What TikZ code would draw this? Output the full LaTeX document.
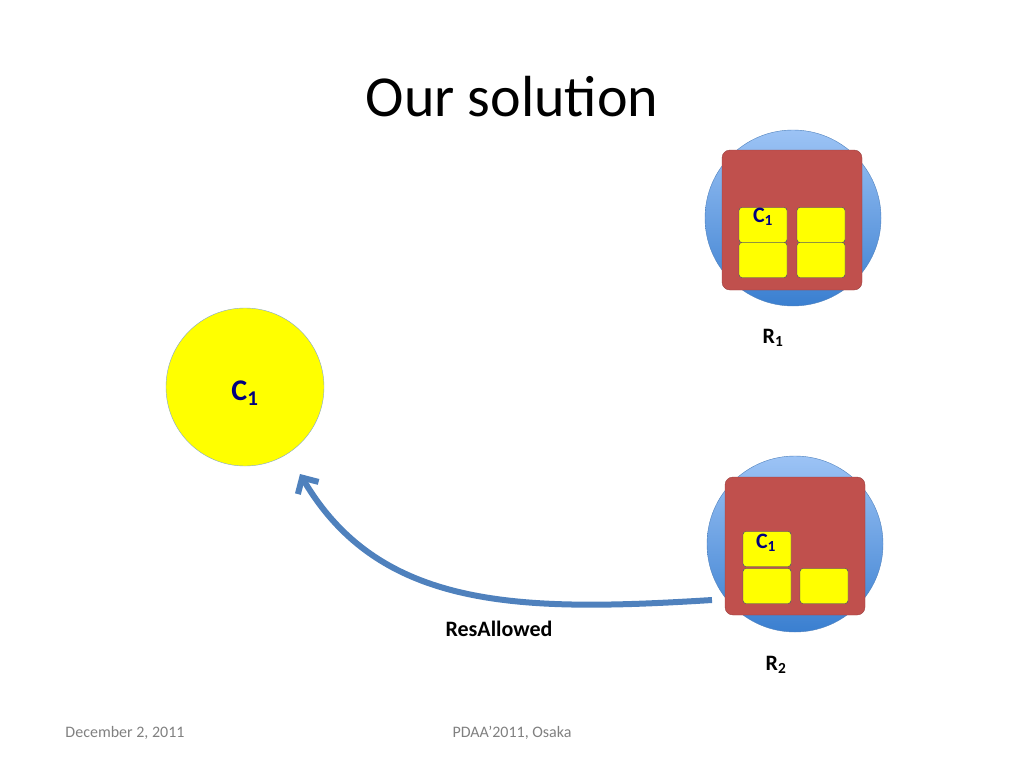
\documentclass[tikz,border=0pt]{standalone}
\usepackage{fontspec}
\setmainfont{Carlito}
\usetikzlibrary{arrows.meta,shadings}
\definecolor{bl}{HTML}{4F81BD}
\definecolor{blt}{HTML}{9CC3F5}
\definecolor{blb}{HTML}{3A7FD0}
\definecolor{rd}{HTML}{C0504D}
\definecolor{yl}{HTML}{FFFF00}
\begin{document}
\begin{tikzpicture}[x=1pt,y=-1pt,
  res/.style={circle,draw=bl,top color=blt,bottom color=blb,minimum size=176pt,inner sep=0pt},
  box/.style={rounded corners=8pt,fill=rd,draw=rd!80!black},
  sq/.style={rounded corners=3pt,fill=yl,draw=bl!60!black,minimum width=48pt,minimum height=35pt,inner sep=0pt},
  lab/.style={font=\bfseries\fontsize{22}{26}\selectfont}]
\useasboundingbox (0,0) rectangle (1024,768);
\node (title) at (512,97) {\fontsize{58}{66}\selectfont Our solution};
% R1
\node[res] (r1) at (793,218) {};
\draw[box] (722,150) rectangle (862,290);
\node[sq] (a1) at (763,225) {};
\node[sq] (a2) at (821,225) {};
\node[sq] (a3) at (763,260) {};
\node[sq] (a4) at (821,260) {};
\node[font=\bfseries\fontsize{22}{26}\selectfont,text=blue!50!black] (ac) at (763,217) {C\textsubscript{1}};
\node[lab] (r1l) at (773,338) {R\textsubscript{1}};
% R2
\node[res] (r2) at (795,544) {};
\draw[box] (725,477) rectangle (865,615);
\node[sq] (b1) at (767,549) {};
\node[sq] (b3) at (767,586) {};
\node[sq] (b4) at (824,586) {};
\node[font=\bfseries\fontsize{22}{26}\selectfont,text=blue!50!black] (bc) at (766,543) {C\textsubscript{1}};
\node[lab] (r2l) at (776,665) {R\textsubscript{2}};
% C1
\node[circle,fill=yl,draw=bl!70,minimum size=158pt,inner sep=0pt] (c) at (245,387) {};
\node[font=\bfseries\fontsize{30}{34}\selectfont,text=blue!50!black] at (245,393) {C\textsubscript{1}};
% arrow
\coordinate (s) at (712,600);
\coordinate (e) at (300,474);
\draw[bl,line width=6pt,-{Straight Barb[length=12pt,width=24pt]}] (s) .. controls (520,612) and (380,610) .. (e);
\node[lab] (ra) at (499,629) {ResAllowed};
\node[text=gray,font=\fontsize{16}{18}\selectfont] at (125,733) {December 2, 2011};
\node[text=gray,font=\fontsize{16}{18}\selectfont] at (512,733) {PDAA'2011, Osaka};
\end{tikzpicture}
\end{document}
